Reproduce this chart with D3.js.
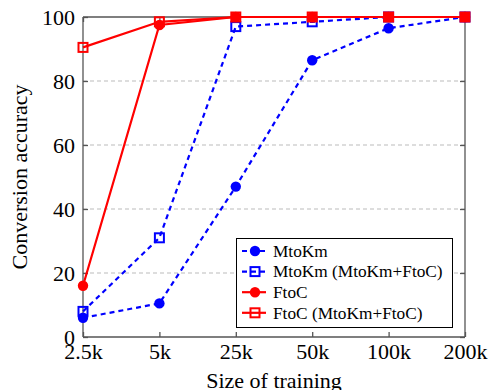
<!DOCTYPE html>
<html>
<head>
<meta charset="utf-8">
<script src="https://cdn.jsdelivr.net/npm/d3@7"></script>
<style>
html,body{margin:0;padding:0;background:#fff;}
svg{display:block;font-family:"Liberation Serif","DejaVu Serif",serif;}
</style>
</head>
<body>
<svg id="chart" width="490" height="390"></svg>
<script>
const categories = ["2.5k","5k","25k","50k","100k","200k"];
const yTicks = [0,20,40,60,80,100];
const mtokm = [6, 10.5, 47, 86.5, 96.5, 100];
const mtokmJoint = [8, 31, 97, 98.5, 100, 100];
const ftoc = [16, 97.5, 100, 100, 100, 100];
const ftocJoint = [90.5, 98.5, 100, 100, 100, 100];
const seriesNames = ["MtoKm","MtoKm (MtoKm+FtoC)","FtoC","FtoC (MtoKm+FtoC)"];

const series = [
  {name: seriesNames[0], values: mtokm, color:"#0000ff", dashed:true, marker:"circle"},
  {name: seriesNames[1], values: mtokmJoint, color:"#0000ff", dashed:true, marker:"square"},
  {name: seriesNames[2], values: ftoc, color:"#ff0000", dashed:false, marker:"circle"},
  {name: seriesNames[3], values: ftocJoint, color:"#ff0000", dashed:false, marker:"square"}
];

const L=83, R=465, T=17, B=337;
const svg = d3.select("#chart");
const x = d3.scalePoint().domain(categories).range([L,R]);
const y = d3.scaleLinear().domain([0,100]).range([B,T]);
const axisColor = "#555";

// grid
svg.append("g").selectAll("line").data(yTicks.filter(d=>d>0 && d<100)).join("line")
  .attr("x1",L).attr("x2",R).attr("y1",d=>y(d)).attr("y2",d=>y(d))
  .attr("stroke","#bbb").attr("stroke-width",1).attr("stroke-dasharray","4,3");

// axes
const fontSize = 22;
const gl = svg.append("g").attr("transform",`translate(${L},0)`)
  .call(d3.axisLeft(y).tickValues(yTicks).tickSize(-5).tickPadding(8));
const gr = svg.append("g").attr("transform",`translate(${R},0)`)
  .call(d3.axisRight(y).tickValues(yTicks).tickSize(-5).tickFormat(""));
const gb = svg.append("g").attr("transform",`translate(0,${B})`)
  .call(d3.axisBottom(x).tickSize(-5).tickPadding(8));
const gt = svg.append("g").attr("transform",`translate(0,${T})`)
  .call(d3.axisTop(x).tickSize(-5).tickFormat(""));
[gl,gr,gb,gt].forEach(g=>{
  g.attr("font-family","Liberation Serif, serif");
  g.select(".domain").attr("stroke",axisColor).attr("stroke-width",1.3);
  g.selectAll(".tick line").attr("stroke",axisColor).attr("stroke-width",1.3);
  g.selectAll("text").attr("fill","#000").attr("font-size",fontSize)
    .attr("font-family","Liberation Serif, serif");
});
gl.selectAll(".domain").attr("d",`M0,${T}V${B}`);
gr.selectAll(".domain").attr("d",`M0,${T}V${B}`);
gb.selectAll(".domain").attr("d",`M${L},0H${R}`);
gt.selectAll(".domain").attr("d",`M${L},0H${R}`);
gb.selectAll("text").attr("dy","0.62em");

// lines
const line = d3.line().x((d,i)=>x(categories[i])).y(d=>y(d));
function drawMarker(g, type, cx, cy, color){
  if(type==="circle"){
    g.append("circle").attr("cx",cx).attr("cy",cy).attr("r",5.2).attr("fill",color);
  } else {
    g.append("rect").attr("x",cx-4.5).attr("y",cy-4.5).attr("width",9).attr("height",9)
      .attr("fill","none").attr("stroke",color).attr("stroke-width",2);
  }
}
series.forEach(s=>{
  const g = svg.append("g");
  g.append("path").datum(s.values).attr("d",line).attr("fill","none")
    .attr("stroke",s.color).attr("stroke-width",2.2)
    .attr("stroke-dasharray", s.dashed ? "5,4" : null);
  s.values.forEach((v,i)=>drawMarker(g, s.marker, x(categories[i]), y(v), s.color));
});

// legend
const lg = svg.append("g");
lg.append("rect").attr("x",236.5).attr("y",238.5).attr("width",216).attr("height",89)
  .attr("fill","#fff").attr("stroke","#000").attr("stroke-width",1);
series.forEach((s,i)=>{
  const yy = 251 + i*20.6;
  lg.append("line").attr("x1",242).attr("x2",266).attr("y1",yy).attr("y2",yy)
    .attr("stroke",s.color).attr("stroke-width",2.2)
    .attr("stroke-dasharray", s.dashed ? "5,4" : null);
  drawMarker(lg, s.marker, 255, yy, s.color);
  lg.append("text").attr("x",273).attr("y",yy).attr("dy","0.33em")
    .attr("font-size",17.3).text(s.name);
});

// axis titles
svg.append("text").attr("x",(L+R)/2).attr("y",388).attr("text-anchor","middle")
  .attr("font-size",fontSize).text("Size of training");
svg.append("text").attr("transform",`translate(27,177) rotate(-90)`).attr("text-anchor","middle")
  .attr("font-size",fontSize).text("Conversion accuracy");
</script>
</body>
</html>
